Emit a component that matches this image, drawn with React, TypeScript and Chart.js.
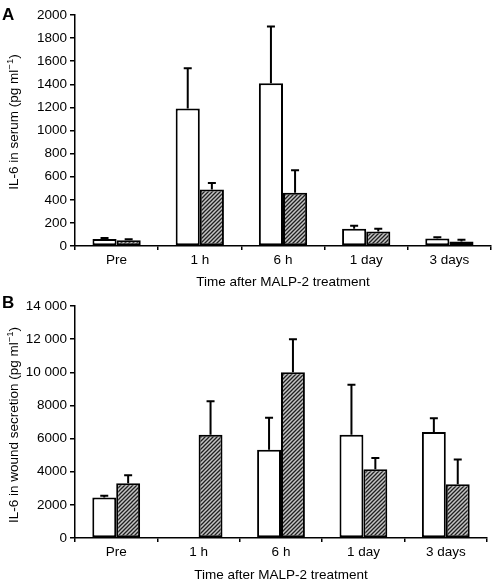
import React, { useEffect, useRef } from "react";
import { Chart, registerables } from "chart.js";
Chart.register(...registerables);

const categories = ["Pre", "1 h", "6 h", "1 day", "3 days"];

const serumWhite = [60, 1190, 1410, 150, 65];
const serumWhiteErr = [70, 1540, 1900, 175, 75];
const serumHatched = [50, 490, 460, 125, 40];
const serumHatchedErr = [58, 545, 655, 150, 55];

const woundWhite: (number | null)[] = [2450, null, 5330, 6230, 6400];
const woundWhiteErr: (number | null)[] = [2550, null, 7250, 9250, 7220];
const woundHatched = [3300, 6230, 10000, 4150, 3250];
const woundHatchedErr = [3780, 8250, 12000, 4830, 4730];

const xTitle = "Time after MALP-2 treatment";
const serumTitle = "IL-6 in serum (pg ml";
const woundTitle = "IL-6 in wound secretion (pg ml";
const FONT = "'Liberation Sans', Arial, Helvetica, sans-serif";

function makePattern(ctx: CanvasRenderingContext2D) {
  const c = document.createElement("canvas");
  c.width = 4;
  c.height = 4;
  const g = c.getContext("2d")!;
  g.fillStyle = "#c4c4c4";
  g.fillRect(0, 0, 4, 4);
  g.strokeStyle = "#202020";
  g.lineWidth = 1.3;
  g.beginPath();
  g.moveTo(-1, 5); g.lineTo(5, -1);
  g.moveTo(-1, 1); g.lineTo(1, -1);
  g.moveTo(3, 5); g.lineTo(5, 3);
  g.stroke();
  return ctx.createPattern(c, "repeat")!;
}

const errorBarPlugin = {
  id: "errbars",
  afterDatasetsDraw(chart: any) {
    const ctx = chart.ctx;
    const y = chart.scales.y;
    ctx.save();
    ctx.strokeStyle = "#000";
    ctx.lineWidth = 2;
    chart.data.datasets.forEach((ds: any, i: number) => {
      const meta = chart.getDatasetMeta(i);
      meta.data.forEach((bar: any, j: number) => {
        const e = ds.errTop ? ds.errTop[j] : null;
        const v = ds.data[j];
        if (e == null || v == null) return;
        const { x, y: by } = bar.getProps(["x", "y"], true);
        const ty = y.getPixelForValue(e);
        ctx.beginPath();
        ctx.moveTo(x, by);
        ctx.lineTo(x, ty);
        ctx.moveTo(x - 4, ty);
        ctx.lineTo(x + 4, ty);
        ctx.stroke();
      });
    });
    ctx.restore();
  },
};

const labelPlugin = {
  id: "labels",
  afterDraw(chart: any) {
    const o = chart.options.plugins.labels;
    const ctx = chart.ctx;
    ctx.save();
    ctx.fillStyle = "#000";
    ctx.font = `bold 17px ${FONT}`;
    ctx.textBaseline = "alphabetic";
    ctx.textAlign = "left";
    ctx.fillText(o.panel, 2, o.panelY);
    ctx.translate(14, o.titleY);
    ctx.rotate(-Math.PI / 2);
    ctx.textBaseline = "middle";
    const main = `13.5px ${FONT}`;
    const sup = `9.5px ${FONT}`;
    ctx.font = main;
    const w1 = ctx.measureText(o.title).width;
    const w3 = ctx.measureText(")").width;
    ctx.font = sup;
    const w2 = ctx.measureText("\u22121").width;
    let x = -(w1 + w2 + w3) / 2;
    ctx.font = main;
    ctx.fillText(o.title, x, 0);
    x += w1;
    ctx.font = sup;
    ctx.fillText("\u22121", x, -4);
    x += w2;
    ctx.font = main;
    ctx.fillText(")", x, 0);
    ctx.restore();
  },
};

function formatThousands(v: number) {
  if (v >= 10000) {
    const s = String(v);
    return s.slice(0, s.length - 3) + " " + s.slice(s.length - 3);
  }
  return String(v);
}

function makeConfig(
  ctx: CanvasRenderingContext2D,
  white: (number | null)[],
  whiteErr: (number | null)[],
  hatched: number[],
  hatchedErr: number[],
  yMax: number,
  yStep: number,
  panel: string,
  panelY: number,
  title: string,
  titleY: number,
  padTop: number,
  padRight: number,
  xTitlePadBottom: number
): any {
  const pattern = makePattern(ctx);
  return {
    type: "bar",
    data: {
      labels: categories,
      datasets: [
        {
          data: white,
          errTop: whiteErr,
          backgroundColor: "#ffffff",
          borderColor: "#000",
          borderWidth: 2,
          borderSkipped: false,
          categoryPercentage: 0.58,
          barPercentage: 1,
        },
        {
          data: hatched,
          errTop: hatchedErr,
          backgroundColor: pattern,
          borderColor: "#000",
          borderWidth: 2,
          borderSkipped: false,
          categoryPercentage: 0.58,
          barPercentage: 1,
        },
      ],
    },
    options: {
      animation: false,
      responsive: false,
      maintainAspectRatio: false,
      events: [],
      layout: { padding: { top: padTop, right: padRight, left: 0, bottom: 0 } },
      plugins: {
        legend: { display: false },
        tooltip: { enabled: false },
        labels: { panel, panelY, title, titleY },
      },
      scales: {
        x: {
          offset: true,
          grid: {
            offset: true,
            drawOnChartArea: false,
            drawTicks: true,
            tickLength: 4,
            color: "#000",
            lineWidth: 1.5,
          },
          border: { color: "#000", width: 1.5 },
          ticks: { color: "#000", font: { family: FONT, size: 13.5 }, padding: 2 },
          title: {
            display: true,
            text: xTitle,
            color: "#000",
            font: { family: FONT, size: 13.5 },
            padding: { top: 2, bottom: xTitlePadBottom },
          },
          afterFit(scale: any) {
            scale.height = 44;
          },
        },
        y: {
          min: 0,
          max: yMax,
          ticks: {
            stepSize: yStep,
            color: "#000",
            font: { family: FONT, size: 13.5 },
            padding: 3,
            callback: (v: number) => formatThousands(v),
          },
          grid: {
            drawOnChartArea: false,
            drawTicks: true,
            tickLength: 5,
            color: "#000",
            lineWidth: 1.5,
          },
          border: { color: "#000", width: 1.5 },
          afterFit(scale: any) {
            scale.width = 75;
          },
        },
      },
    },
    plugins: [errorBarPlugin, labelPlugin],
  };
}

export default function App() {
  const refA = useRef<HTMLCanvasElement>(null);
  const refB = useRef<HTMLCanvasElement>(null);
  useEffect(() => {
    const ca = refA.current!.getContext("2d")!;
    const cb = refB.current!.getContext("2d")!;
    const a = new Chart(
      ca,
      makeConfig(ca, serumWhite, serumWhiteErr, serumHatched, serumHatchedErr, 2000, 200, "A", 20, serumTitle, 122, 15, 5, 0)
    );
    const b = new Chart(
      cb,
      makeConfig(cb, woundWhite, woundWhiteErr, woundHatched, woundHatchedErr, 14000, 2000, "B", 18, woundTitle, 135, 16, 9, -1)
    );
    return () => {
      a.destroy();
      b.destroy();
    };
  }, []);
  return (
    <div style={{ position: "absolute", left: 0, top: 0, width: 496, height: 582, background: "#fff" }}>
      <canvas ref={refA} width={496} height={290} style={{ display: "block", width: 496, height: 290 }} />
      <canvas ref={refB} width={496} height={292} style={{ display: "block", width: 496, height: 292 }} />
    </div>
  );
}
